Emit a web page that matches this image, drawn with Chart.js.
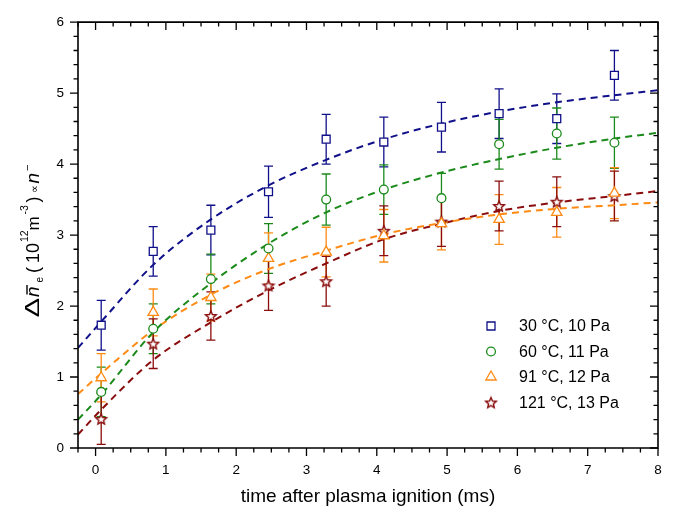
<!DOCTYPE html>
<html>
<head>
<meta charset="utf-8">
<script src="https://cdn.jsdelivr.net/npm/chart.js@4.4.0/dist/chart.umd.min.js"></script>
<style>
html,body{margin:0;padding:0;background:#fff;}
#wrap{width:677px;height:512px;}
</style>
</head>
<body>
<div id="wrap"><canvas id="c" width="677" height="512"></canvas></div>
<script>
// ---------- data ----------
const timeMs = [0.08, 0.82, 1.64, 2.46, 3.28, 4.10, 4.92, 5.74, 6.56, 7.38];

const dens30 = [1.73, 2.77, 3.07, 3.61, 4.35, 4.31, 4.52, 4.71, 4.64, 5.25];
const err30  = [0.35, 0.35, 0.35, 0.36, 0.35, 0.35, 0.35, 0.35, 0.35, 0.35];
const dens60 = [0.79, 1.68, 2.38, 2.81, 3.50, 3.64, 3.52, 4.28, 4.43, 4.30];
const err60  = [0.35, 0.35, 0.35, 0.35, 0.36, 0.35, 0.35, 0.35, 0.36, 0.36];
const dens91 = [0.99, 1.91, 2.12, 2.67, 2.76, 2.99, 3.16, 3.22, 3.32, 3.59];
const err91  = [0.34, 0.33, 0.33, 0.36, 0.35, 0.37, 0.37, 0.35, 0.35, 0.36];
const dens121 = [0.41, 1.47, 1.86, 2.29, 2.35, 3.06, 3.19, 3.41, 3.47, 3.55];
const err121  = [0.36, 0.35, 0.34, 0.35, 0.35, 0.35, 0.35, 0.35, 0.35, 0.35];

const fitTime = [-0.25, 0.08, 0.82, 1.64, 2.46, 3.28, 4.10, 4.92, 5.74, 6.56, 7.38, 8.0];
const fit30  = [1.41, 1.78, 2.58, 3.22, 3.70, 4.06, 4.35, 4.57, 4.74, 4.87, 4.97, 5.04];
const fit60  = [0.40, 0.75, 1.63, 2.32, 2.88, 3.32, 3.64, 3.88, 4.07, 4.23, 4.36, 4.44];
const fit91  = [0.76, 1.05, 1.66, 2.16, 2.52, 2.78, 3.01, 3.17, 3.29, 3.37, 3.42, 3.46];
const fit121 = [0.19, 0.54, 1.24, 1.77, 2.22, 2.60, 2.94, 3.16, 3.34, 3.46, 3.55, 3.62];

const seriesLabels = ['30 \u00B0C, 10 Pa', '60 \u00B0C, 11 Pa', '91 \u00B0C, 12 Pa', '121 \u00B0C, 13 Pa'];
const xTickLabels = [0, 1, 2, 3, 4, 5, 6, 7, 8];
const yTickLabels = [0, 1, 2, 3, 4, 5, 6];
const xTitle = 'time after plasma ignition (ms)';

// ---------- styling ----------
const FONT = "'Liberation Sans', Arial, Helvetica, sans-serif";
const colors = ['#10108a', '#1a8a1a', '#ff8a14', '#8a0c0c'];

function makeStar(color, r) {
  const s = Math.ceil(r * 2 + 4);
  const c = document.createElement('canvas');
  c.width = s; c.height = s;
  const g = c.getContext('2d');
  g.translate(s / 2, s / 2 + 0.6);
  g.beginPath();
  for (let i = 0; i < 10; i++) {
    const a = -Math.PI / 2 + i * Math.PI / 5;
    const rr = (i % 2) ? r * 0.45 : r;
    g.lineTo(rr * Math.cos(a), rr * Math.sin(a));
  }
  g.closePath();
  g.fillStyle = '#fff'; g.fill();
  g.strokeStyle = color; g.lineWidth = 1.4; g.lineJoin = 'miter'; g.stroke();
  return c;
}
const starImg = makeStar(colors[3], 5.6);

const pointStyles = ['rect', 'circle', 'triangle', starImg];
const pointRadii = [5.6, 4.4, 6, 5.6];

function toXY(xs, ys) { return xs.map((t, i) => ({ x: t, y: ys[i] })); }

const pointSets = [dens30, dens60, dens91, dens121];
const errSets = [err30, err60, err91, err121];
const fitSets = [fit30, fit60, fit91, fit121];

const datasets = [];
pointSets.forEach((d, i) => {
  datasets.push({
    label: seriesLabels[i],
    data: toXY(timeMs, d),
    errors: errSets[i],
    showLine: false,
    pointStyle: pointStyles[i],
    pointRadius: pointRadii[i],
    pointBorderWidth: 1.3,
    pointBackgroundColor: '#ffffff',
    pointBorderColor: colors[i],
    borderColor: colors[i],
    backgroundColor: '#ffffff'
  });
});
fitSets.forEach((d, i) => {
  datasets.push({
    label: 'fit ' + seriesLabels[i],
    data: toXY(fitTime, d),
    showLine: true,
    pointRadius: 0,
    borderColor: colors[i],
    borderWidth: 2,
    borderDash: [7, 5],
    cubicInterpolationMode: 'monotone',
    fill: false
  });
});

function isListed(list, v) { return list.some(t => Math.abs(t - v) < 1e-6); }

// ---------- plugins ----------
const errorBars = {
  id: 'errorBars',
  beforeDatasetsDraw(chart) {
    const { ctx, scales: { x, y } } = chart;
    chart.data.datasets.forEach((ds) => {
      if (!ds.errors) return;
      ctx.save();
      ctx.strokeStyle = ds.borderColor;
      ctx.lineWidth = 1.3;
      ds.data.forEach((p, j) => {
        const e = ds.errors[j];
        const px = x.getPixelForValue(p.x);
        const top = y.getPixelForValue(p.y + e);
        const bot = y.getPixelForValue(p.y - e);
        ctx.beginPath();
        ctx.moveTo(px, top); ctx.lineTo(px, bot);
        ctx.moveTo(px - 4.5, top); ctx.lineTo(px + 4.5, top);
        ctx.moveTo(px - 4.5, bot); ctx.lineTo(px + 4.5, bot);
        ctx.stroke();
      });
      ctx.restore();
    });
  }
};

const frame = {
  id: 'frame',
  afterDraw(chart) {
    const { ctx, chartArea: { left, right, top, bottom }, scales: { x, y } } = chart;
    ctx.save();
    ctx.strokeStyle = '#000';
    ctx.lineWidth = 1.6;
    ctx.beginPath();
    ctx.rect(left, top, right - left, bottom - top);
    ctx.stroke();
    ctx.lineWidth = 1.3;
    ctx.beginPath();
    x.ticks.forEach(t => {
      const px = x.getPixelForValue(t.value);
      const len = isListed(xTickLabels, t.value) ? 8 : 4.5;
      ctx.moveTo(px, bottom); ctx.lineTo(px, bottom + len);
      ctx.moveTo(px, top); ctx.lineTo(px, top + len);
    });
    y.ticks.forEach(t => {
      const py = y.getPixelForValue(t.value);
      const len = isListed(yTickLabels, t.value) ? 8 : 4.5;
      ctx.moveTo(left - len, py); ctx.lineTo(left, py);
      ctx.moveTo(right - len, py); ctx.lineTo(right, py);
    });
    ctx.stroke();
    ctx.restore();
  }
};

const yTitle = {
  id: 'yTitle',
  afterDraw(chart) {
    const ctx = chart.ctx;
    const base = 38.5; // baseline x position on screen
    // each segment: text, start (screen y where text starts, text runs upward), size, italic, baseline shift
    const segs = [
      { t: 'n', start: 297, size: 19, it: true, dy: 0, bar: true },
      { t: 'e', start: 282.5, size: 10, dy: 4.5 },
      { t: '(', start: 273, size: 18, dy: 0 },
      { t: '10', start: 263, size: 18, dy: 0 },
      { t: '12', start: 242, size: 10.5, dy: -10.5 },
      { t: 'm', start: 230.5, size: 17, dy: 0 },
      { t: '-3', start: 214.5, size: 10.5, dy: -10.5 },
      { t: ')', start: 202.5, size: 18, dy: 0 },
      { t: '\u221D', start: 192.5, size: 11, dy: -1 },
      { t: 'n', start: 183.5, size: 19, it: true, dy: 0 },
      { t: '\u2212', start: 171, size: 11, dy: -8 }
    ];
    ctx.save();
    ctx.fillStyle = '#000';
    ctx.strokeStyle = '#000';
    ctx.textBaseline = 'alphabetic';
    ctx.textAlign = 'left';
    // Delta, slightly wider than the body font
    ctx.save();
    ctx.translate(base, 317.5);
    ctx.rotate(-Math.PI / 2);
    ctx.scale(1.4, 1);
    ctx.font = '21px ' + FONT;
    ctx.fillText('\u0394', 0, 0);
    ctx.restore();
    segs.forEach(s => {
      ctx.save();
      ctx.translate(base, s.start);
      ctx.rotate(-Math.PI / 2);
      ctx.font = (s.it ? 'italic ' : '') + s.size + 'px ' + FONT;
      ctx.fillText(s.t, 0, s.dy);
      if (s.bar) {
        const w = ctx.measureText(s.t).width;
        ctx.lineWidth = 1.4;
        ctx.beginPath();
        ctx.moveTo(2.5, -11.5); ctx.lineTo(w + 1.5, -11.5);
        ctx.stroke();
      }
      ctx.restore();
    });
    ctx.restore();
  }
};

const legendBox = {
  id: 'legendBox',
  afterDraw(chart) {
    const { ctx, chartArea } = chart;
    const mx = chartArea.right - 167;
    const ty = chartArea.right - 139;
    const y0 = chartArea.bottom - 122;
    const step = 25.5;
    ctx.save();
    ctx.font = '16px ' + FONT;
    ctx.textBaseline = 'middle';
    ctx.textAlign = 'left';
    seriesLabels.forEach((lab, i) => {
      const cy = y0 + i * step;
      const c = colors[i];
      ctx.strokeStyle = c; ctx.fillStyle = '#fff'; ctx.lineWidth = 1.3;
      ctx.beginPath();
      if (i === 0) {
        ctx.rect(mx - 4, cy - 4, 8, 8);
      } else if (i === 1) {
        ctx.arc(mx, cy, 4.4, 0, Math.PI * 2);
      } else if (i === 2) {
        const r = 6;
        ctx.moveTo(mx, cy - r);
        ctx.lineTo(mx + r * Math.cos(Math.PI / 6), cy + r / 2);
        ctx.lineTo(mx - r * Math.cos(Math.PI / 6), cy + r / 2);
        ctx.closePath();
      }
      if (i < 3) { ctx.fill(); ctx.stroke(); }
      else { ctx.drawImage(starImg, mx - starImg.width / 2, cy - starImg.height / 2); }
      ctx.fillStyle = '#000';
      ctx.fillText(lab, ty, cy + 1);
    });
    ctx.restore();
  }
};

// ---------- chart ----------
new Chart(document.getElementById('c').getContext('2d'), {
  type: 'scatter',
  data: { datasets },
  options: {
    responsive: false,
    animation: false,
    devicePixelRatio: 1,
    layout: { padding: { top: 14, right: 19, left: 0, bottom: 0 } },
    plugins: { legend: { display: false }, tooltip: { enabled: false } },
    scales: {
      x: {
        type: 'linear', min: -0.25, max: 8,
        ticks: {
          stepSize: 0.25, autoSkip: false, maxRotation: 0, minRotation: 0,
          padding: 14, color: '#000', font: { family: FONT, size: 13.5 },
          callback: v => { const k = xTickLabels.find(t => Math.abs(t - v) < 1e-6); return k === undefined ? '' : String(k); }
        },
        grid: { display: false, drawTicks: false },
        border: { display: false },
        title: { display: true, text: xTitle, color: '#000', font: { family: FONT, size: 19 }, padding: { top: 0, bottom: 4 } },
        afterFit: s => { s.height = 64; }
      },
      y: {
        type: 'linear', min: 0, max: 6,
        ticks: {
          stepSize: 0.2, autoSkip: false,
          padding: 14, color: '#000', font: { family: FONT, size: 13.5 },
          callback: v => { const k = yTickLabels.find(t => Math.abs(t - v) < 1e-6); return k === undefined ? '' : String(k); }
        },
        grid: { display: false, drawTicks: false },
        border: { display: false },
        afterFit: s => { s.width = 78; }
      }
    }
  },
  plugins: [errorBars, frame, yTitle, legendBox]
});
</script>
</body>
</html>
